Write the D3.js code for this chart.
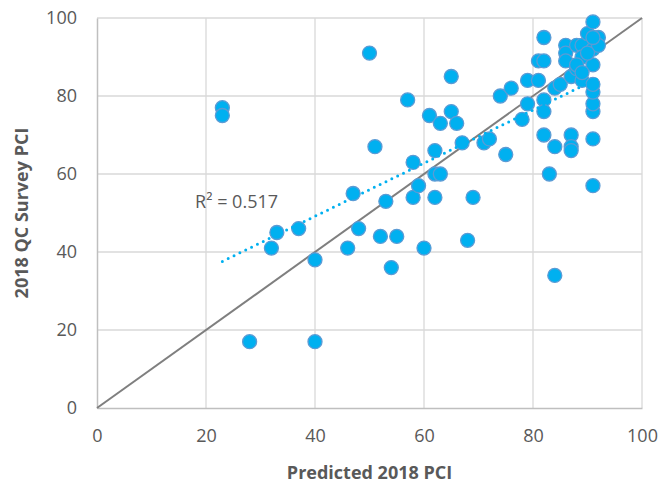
<!DOCTYPE html>
<html>
<head>
<meta charset="utf-8">
<script src="https://cdn.jsdelivr.net/npm/d3@7"></script>
<style>
  body { margin: 0; background: #fff; }
  text { font-family: "Open Sans", sans-serif; fill: #595959; }
</style>
</head>
<body>
<div id="chart"></div>
<script>
// predicted vs surveyed PCI, one entry per segment
var predicted = [23, 23, 28, 40, 33, 32, 37, 40, 47, 48, 46, 52, 55, 53, 54, 60, 68, 58, 62, 69,
                 59, 58, 62, 63, 62, 51, 57, 50, 61, 63, 65, 66, 65, 67, 71, 72, 75, 74, 76, 78,
                 79, 79, 81, 82, 82, 82, 83, 84, 84, 84, 85, 87, 87, 87, 87, 88, 89, 91, 91, 91,
                 91, 91, 91, 81, 82, 82, 86, 86, 86, 88, 89, 90, 92, 91, 92, 89, 91, 88, 91, 91,
                 90, 89];
var survey    = [77, 75, 17, 17, 45, 41, 46, 38, 55, 46, 41, 44, 44, 53, 36, 41, 43, 54, 54, 54,
                 57, 63, 60, 60, 66, 67, 79, 91, 75, 73, 76, 73, 85, 68, 68, 69, 65, 80, 82, 74,
                 78, 84, 84, 79, 76, 70, 60, 67, 34, 82, 83, 70, 67, 66, 85, 87, 84, 69, 57, 76,
                 78, 81, 83, 89, 89, 95, 93, 91, 89, 93, 93, 96, 95, 92, 93, 90, 88, 88, 99, 95,
                 91, 86];
var ticks = [0, 20, 40, 60, 80, 100];
var r2Label = "R\u00b2 = 0.517";

var margin = {top: 18, right: 19, bottom: 77, left: 97},
    width = 661 - margin.left - margin.right,
    height = 485 - margin.top - margin.bottom;

var svg = d3.select("#chart")
  .append("svg")
    .attr("width", 661)
    .attr("height", 485)
  .append("g")
    .attr("transform", "translate(" + margin.left + "," + margin.top + ")");

var x = d3.scaleLinear().domain([0, 100]).range([0, width]);
var y = d3.scaleLinear().domain([0, 100]).range([height, 0]);

// gridlines
svg.append("g")
  .selectAll("line.gx")
  .data(ticks.slice(1))
  .join("line")
    .attr("x1", d => x(d)).attr("x2", d => x(d))
    .attr("y1", 0).attr("y2", height)
    .style("stroke", "#d9d9d9").style("stroke-width", 1.3);

svg.append("g")
  .selectAll("line.gy")
  .data(ticks.slice(1))
  .join("line")
    .attr("x1", 0).attr("x2", width)
    .attr("y1", d => y(d)).attr("y2", d => y(d))
    .style("stroke", "#d9d9d9").style("stroke-width", 1.3);

// axes
var xAxis = svg.append("g")
  .attr("transform", "translate(0," + height + ")")
  .call(d3.axisBottom(x).tickValues(ticks).tickSize(0).tickPadding(21));
var yAxis = svg.append("g")
  .call(d3.axisLeft(y).tickValues(ticks).tickSize(0).tickPadding(20));

[xAxis, yAxis].forEach(function(a){
  a.select(".domain").style("stroke", "#bfbfbf").style("stroke-width", 1.5);
  a.selectAll("text").style("font-size", "18px").style("fill", "#595959")
    .style("font-family", "'Open Sans', sans-serif");
});

// 1:1 line
svg.append("line")
  .attr("x1", x(0)).attr("y1", y(0))
  .attr("x2", x(100)).attr("y2", y(100))
  .style("stroke", "#7f7f7f")
  .style("stroke-width", 2);

var data = predicted.map((p, i) => ({p: p, s: survey[i]}));

svg.append("g")
  .selectAll("circle")
  .data(data)
  .join("circle")
    .attr("cx", d => x(d.p))
    .attr("cy", d => y(d.s))
    .attr("r", 7)
    .style("fill", "#00b0f0")
    .style("stroke", "#5b9bd5")
    .style("stroke-width", 1.3);

// linear trendline (least squares)
var mx = d3.mean(predicted), my = d3.mean(survey);
var sxy = d3.sum(data, d => (d.p - mx) * (d.s - my));
var sxx = d3.sum(data, d => (d.p - mx) * (d.p - mx));
var slope = sxy / sxx, intercept = my - slope * mx;
var xr = d3.extent(predicted);

svg.append("line")
  .attr("x1", x(xr[0])).attr("y1", y(intercept + slope * xr[0]))
  .attr("x2", x(xr[1])).attr("y2", y(intercept + slope * xr[1]))
  .style("stroke", "#00b0f0")
  .style("stroke-width", 3)
  .style("stroke-linecap", "round")
  .style("stroke-dasharray", "0,6.5");

svg.append("text")
  .attr("x", x(18))
  .attr("y", y(53))
  .attr("dy", "0.35em")
  .style("font-size", "18px")
  .text(r2Label);

// axis titles
svg.append("text")
  .attr("x", width / 2)
  .attr("y", height + 65)
  .attr("dy", "0.35em")
  .attr("text-anchor", "middle")
  .style("font-size", "18px")
  .style("font-weight", "bold")
  .text("Predicted 2018 PCI");

svg.append("text")
  .attr("transform", "translate(" + (-75) + "," + (height / 2) + ") rotate(-90)")
  .attr("dy", "0.35em")
  .attr("text-anchor", "middle")
  .style("font-size", "18px")
  .style("font-weight", "bold")
  .text("2018 QC Survey PCI");
</script>
</body>
</html>
